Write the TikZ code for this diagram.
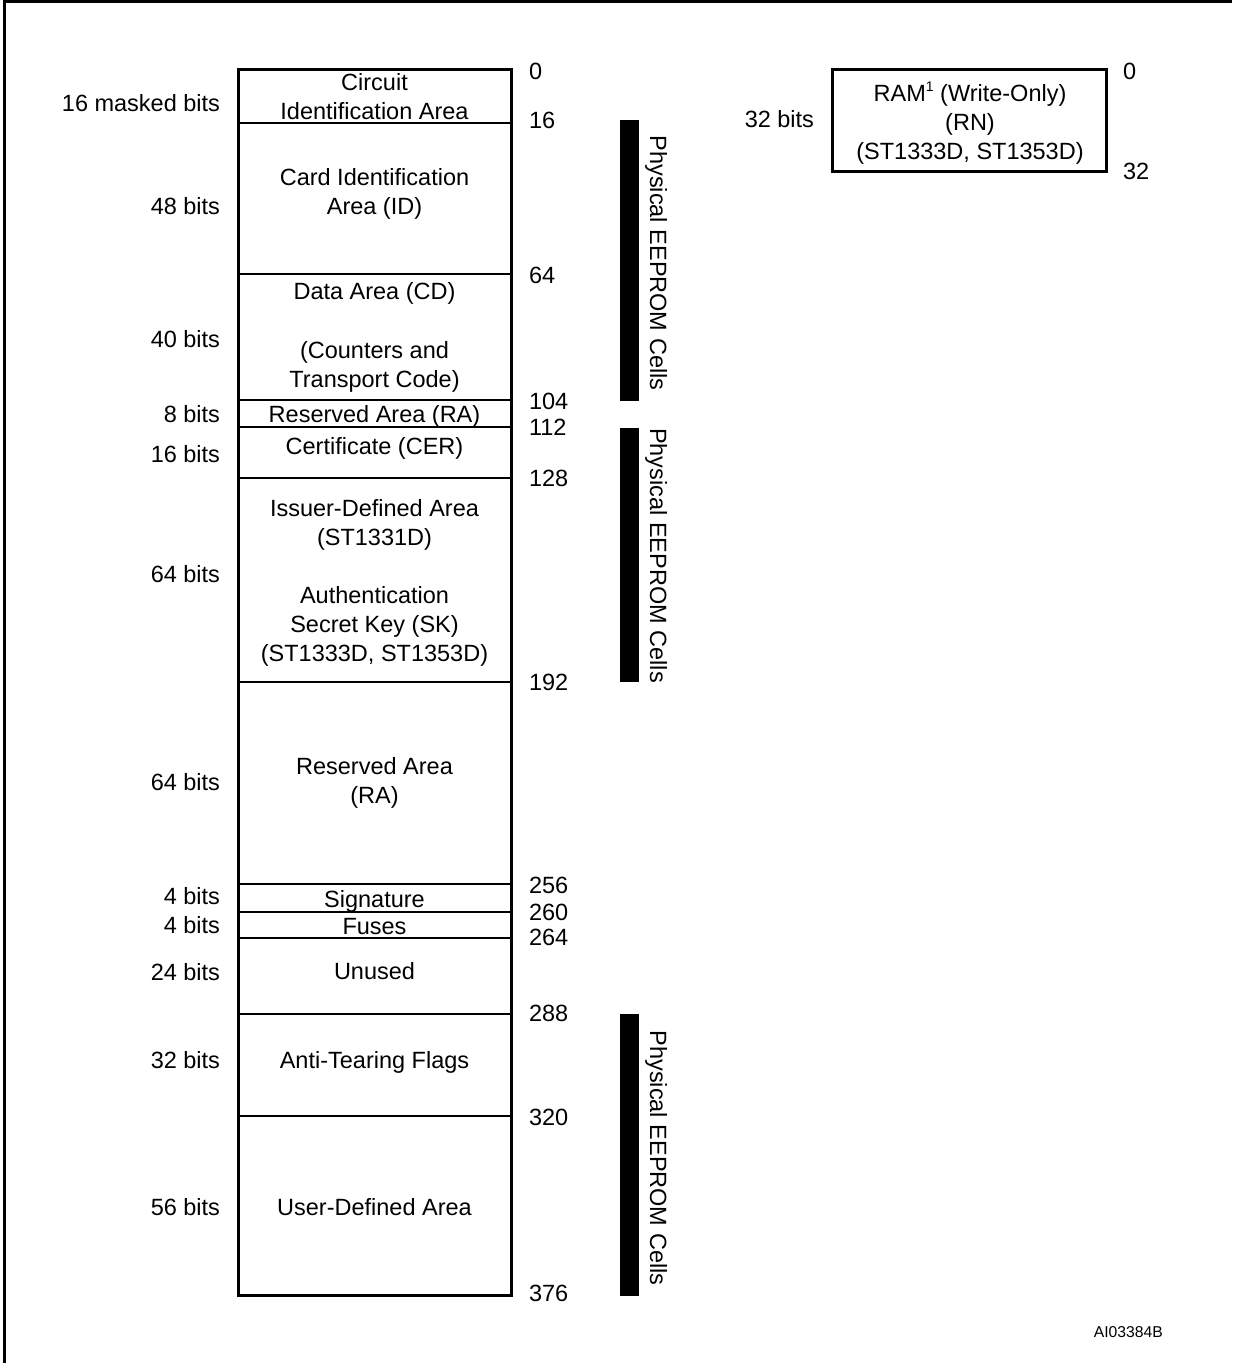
\documentclass[tikz,border=0pt]{standalone}
\usepackage{fontspec}
\setmainfont{Liberation Sans}
\begin{document}
\begin{tikzpicture}[x=1pt,y=-1pt,
  lbl/.style={font=\fontsize{23.5}{29}\selectfont, inner sep=0pt, outer sep=0pt},
  region/.style={draw, line width=2pt, inner sep=0pt, outer sep=0pt, anchor=north west, minimum width=273pt},
  bar/.style={fill=black, inner sep=0pt, outer sep=0pt, anchor=north west, minimum width=18.5pt},
  frame/.style={line width=3pt}
]
\useasboundingbox (0,0) rectangle (1232,1363);
% frame (top and left edges visible)
\draw[frame] (4,1363) -- (4,1.7) -- (1232,1.7);

% memory regions
\node[region, minimum height=53.5pt]  (r1)  at (238,69)    {};
\node[region, minimum height=151.5pt] (r2)  at (238,122.5) {};
\node[region, minimum height=126pt]   (r3)  at (238,274)   {};
\node[region, minimum height=27pt]    (r4)  at (238,400)   {};
\node[region, minimum height=50.5pt]  (r5)  at (238,427)   {};
\node[region, minimum height=204.5pt] (r6)  at (238,477.5) {};
\node[region, minimum height=201.5pt] (r7)  at (238,682)   {};
\node[region, minimum height=28.5pt]  (r8)  at (238,883.5) {};
\node[region, minimum height=26pt]    (r9)  at (238,912)   {};
\node[region, minimum height=76pt]    (r10) at (238,938)   {};
\node[region, minimum height=101.5pt] (r11) at (238,1014)  {};
\node[region, minimum height=179.5pt] (r12) at (238,1115.5){};
\draw[line width=3pt] (r1.north west) rectangle (r12.south east);

% region texts
\node[lbl, anchor=base] (t1a) at (374.5,90)  {Circuit};
\node[lbl, anchor=base] (t1b) at (374.5,119) {Identification Area};
\node[lbl, anchor=base] (t2a) at (374.5,185) {Card Identification};
\node[lbl, anchor=base] (t2b) at (374.5,214) {Area (ID)};
\node[lbl, anchor=base] (t3a) at (374.5,299.5) {Data Area (CD)};
\node[lbl, anchor=base] (t3b) at (374.5,358) {(Counters and};
\node[lbl, anchor=base] (t3c) at (374.5,387) {Transport Code)};
\node[lbl, anchor=base] (t4)  at (374.5,422) {Reserved Area (RA)};
\node[lbl, anchor=base] (t5)  at (374.5,454) {Certificate (CER)};
\node[lbl, anchor=base] (t6a) at (374.5,516) {Issuer-Defined Area};
\node[lbl, anchor=base] (t6b) at (374.5,545) {(ST1331D)};
\node[lbl, anchor=base] (t6c) at (374.5,603) {Authentication};
\node[lbl, anchor=base] (t6d) at (374.5,632) {Secret Key (SK)};
\node[lbl, anchor=base] (t6e) at (374.5,661) {(ST1333D, ST1353D)};
\node[lbl, anchor=base] (t7a) at (374.5,774.5) {Reserved Area};
\node[lbl, anchor=base] (t7b) at (374.5,803.5) {(RA)};
\node[lbl, anchor=base] (t8)  at (374.5,907.5) {Signature};
\node[lbl, anchor=base] (t9)  at (374.5,934) {Fuses};
\node[lbl, anchor=base] (t10) at (374.5,979) {Unused};
\node[lbl, anchor=base] (t11) at (374.5,1068) {Anti-Tearing Flags};
\node[lbl, anchor=base] (t12) at (374.5,1215) {User-Defined Area};

% sizes (left)
\node[lbl, anchor=base east] (s1)  at (220,111) {16 masked bits};
\node[lbl, anchor=base east] (s2)  at (220,214) {48 bits};
\node[lbl, anchor=base east] (s3)  at (220,347) {40 bits};
\node[lbl, anchor=base east] (s4)  at (220,422) {8 bits};
\node[lbl, anchor=base east] (s5)  at (220,462) {16 bits};
\node[lbl, anchor=base east] (s6)  at (220,582) {64 bits};
\node[lbl, anchor=base east] (s7)  at (220,790) {64 bits};
\node[lbl, anchor=base east] (s8)  at (220,904.5) {4 bits};
\node[lbl, anchor=base east] (s9)  at (220,933) {4 bits};
\node[lbl, anchor=base east] (s10) at (220,980) {24 bits};
\node[lbl, anchor=base east] (s11) at (220,1068) {32 bits};
\node[lbl, anchor=base east] (s12) at (220,1215) {56 bits};

% addresses (right)
\node[lbl, anchor=base west] (a0)   at (529,79)    {0};
\node[lbl, anchor=base west] (a16)  at (529,128.5) {16};
\node[lbl, anchor=base west] (a64)  at (529,283)   {64};
\node[lbl, anchor=base west] (a104) at (529,409)   {104};
\node[lbl, anchor=base west] (a112) at (529,435)   {112};
\node[lbl, anchor=base west] (a128) at (529,486.5) {128};
\node[lbl, anchor=base west] (a192) at (529,690)   {192};
\node[lbl, anchor=base west] (a256) at (529,893)   {256};
\node[lbl, anchor=base west] (a260) at (529,920)   {260};
\node[lbl, anchor=base west] (a264) at (529,945.5) {264};
\node[lbl, anchor=base west] (a288) at (529,1021.5){288};
\node[lbl, anchor=base west] (a320) at (529,1125)  {320};
\node[lbl, anchor=base west] (a376) at (529,1301.5){376};

% physical EEPROM bars
\node[bar, minimum height=281pt] (b1) at (620,120)  {};
\node[bar, minimum height=254pt] (b2) at (620,428)  {};
\node[bar, minimum height=282pt] (b3) at (620,1014) {};
\node[lbl, rotate=-90, anchor=base] (p1) at (650,263)    {Physical EEPROM Cells};
\node[lbl, rotate=-90, anchor=base] (p2) at (650,555.5)  {Physical EEPROM Cells};
\node[lbl, rotate=-90, anchor=base] (p3) at (650,1158)   {Physical EEPROM Cells};

% RAM
\node[draw, line width=3pt, inner sep=0pt, outer sep=0pt, anchor=north west,
      minimum width=274pt, minimum height=102pt] (ram) at (832,69) {};
\node[lbl, anchor=base] (ram1) at (970,101) {RAM\raisebox{10pt}{\fontsize{14}{14}\selectfont 1} (Write-Only)};
\node[lbl, anchor=base] (ram2) at (970,130) {(RN)};
\node[lbl, anchor=base] (ram3) at (970,159) {(ST1333D, ST1353D)};
\node[lbl, anchor=base east] (rams) at (814,127) {32 bits};
\node[lbl, anchor=base west] (ra0)  at (1123,79)  {0};
\node[lbl, anchor=base west] (ra32) at (1123,179) {32};

% figure id
\node[font=\fontsize{15.7}{18}\selectfont, inner sep=0pt, anchor=base east] (fid) at (1163,1337) {AI03384B};
\end{tikzpicture}
\end{document}
